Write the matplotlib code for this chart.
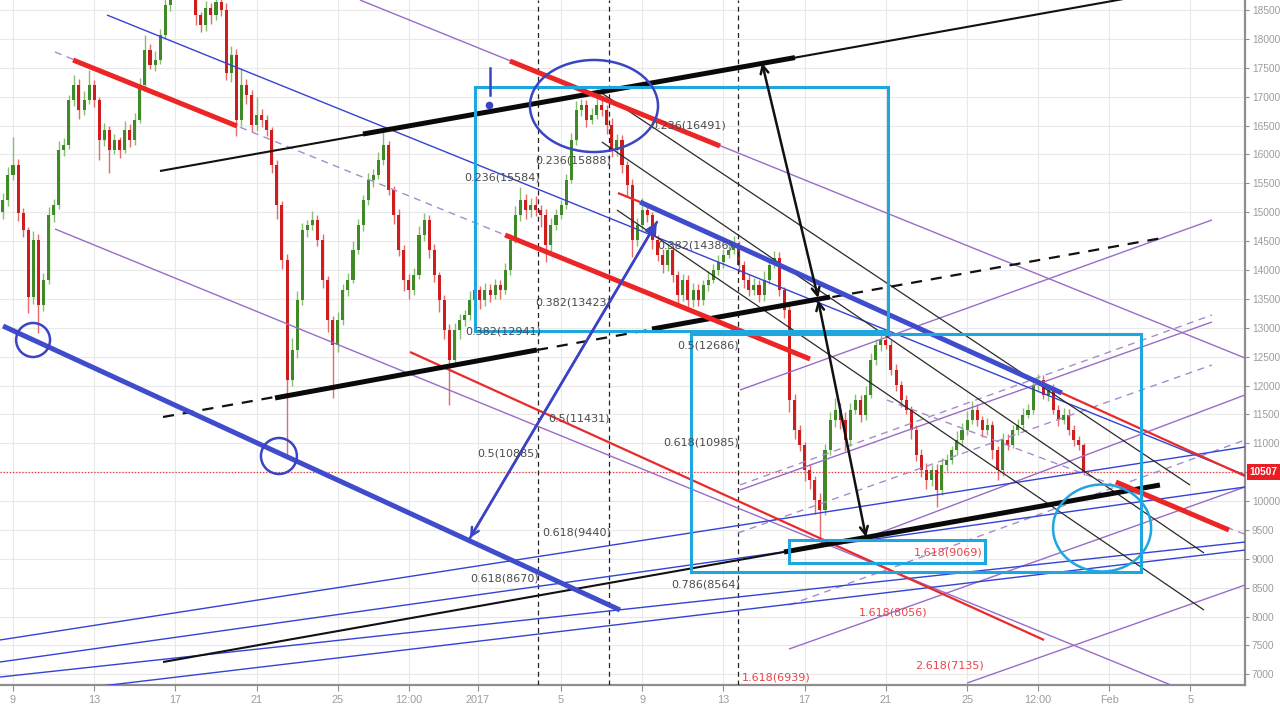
import numpy as np
import matplotlib
matplotlib.use('Agg')
import matplotlib.pyplot as plt
from matplotlib.patches import Rectangle, Ellipse
import matplotlib.transforms as mtransforms

# ---------------- axis data ----------------
x_tick_days = [0, 4, 8, 12, 16, 19.5, 22.9, 27, 31, 35, 39, 43, 47, 50.5, 54, 58]
x_tick_labels = ['9', '13', '17', '21', '25', '12:00', '2017', '5', '9', '13',
                 '17', '21', '25', '12:00', 'Feb', '5']
y_ticks = list(range(7000, 19000, 500))
x_range = (-0.64, 60.69)
y_range = (6816, 18673)
last_price = 10507

# ---------------- candles (6h bars, open = previous close) ----------------
first_bar_day = -0.5
bar_step_days = 0.25
first_open = 15000
closes = [
    15210, 15640, 15820, 14990, 14690, 13530, 14520, 13390, 13830, 14950,
    15130, 16080, 16160, 16940, 17200, 16770, 16940, 17200, 16940, 16250,
    16420, 16080, 16250, 16080, 16420, 16250, 16600, 17200, 17810, 17550,
    17640, 18070, 18590, 19190, 19450, 19710, 19450, 19110, 18410, 18240,
    18540, 18410, 18640, 18500, 17410, 17720, 16600, 17200, 17030, 16510,
    16680, 16600, 16420, 15820, 15130, 14170, 12100, 12620, 13480, 14690,
    14780, 14870, 14520, 13830, 13130, 12700, 13130, 13650, 13830, 14350,
    14780, 15210, 15560, 15640, 15900, 16160, 15390, 14950, 14350, 13830,
    13650, 13910, 14610, 14870, 14350, 13910, 13480, 12960, 12440, 12960,
    13130, 13220, 13480, 13650, 13480, 13650, 13570, 13740, 13650, 14000,
    14520, 14950, 15210, 15040, 15130, 15040, 14950, 14430, 14780, 14950,
    15130, 15560, 16250, 16770, 16860, 16600, 16680, 16860, 16770, 16510,
    16080, 16250, 15820, 15470, 14520, 14780, 15040, 14950, 14520, 14260,
    14090, 14350, 13910, 13570, 13830, 13480, 13650, 13480, 13740, 13830,
    14000, 14140, 14260, 14350, 14430, 14090, 13830, 13650, 13740, 13570,
    13830, 14090, 14210, 13650, 13310, 11750, 11230, 10970, 10540, 10360,
    10020, 9850, 10880, 11400, 11580, 11400, 11060, 11580, 11750, 11490,
    11840, 12440, 12700, 12790, 12700, 12270, 12010, 11750, 11580, 11230,
    10800, 10540, 10360, 10540, 10190, 10620, 10710, 10880, 11060, 11230,
    11400, 11580, 11400, 11230, 11320, 10880, 10540, 11060, 10970, 11230,
    11320, 11490, 11580, 12010, 12100, 11840, 11920, 11580, 11400, 11490,
    11230, 11060, 10970, 10507]
upper_wick = [
    120, 150, 480, 100, 80, 60, 150, 100, 120, 140,
    100, 150, 120, 80, 170, 100, 150, 260, 80, 60,
    120, 80, 100, 60, 150, 100, 120, 130, 260, 100,
    150, 100, 120, 150, 150, 150, 100, 100, 80, 60,
    120, 80, 100, 80, 120, 150, 100, 300, 100, 80,
    320, 100, 80, 60, 80, 60, 100, 200, 150, 120,
    80, 150, 80, 100, 60, 80, 150, 100, 120, 150,
    100, 80, 120, 100, 150, 310, 80, 60, 100, 80,
    100, 120, 150, 120, 80, 100, 60, 80, 100, 120,
    100, 80, 150, 100, 80, 120, 100, 100, 80, 120,
    100, 150, 230, 100, 120, 150, 80, 100, 120, 100,
    80, 100, 120, 150, 100, 80, 120, 310, 100, 80,
    120, 100, 80, 60, 100, 120, 200, 80, 60, 80,
    100, 120, 60, 80, 100, 80, 120, 100, 80, 150,
    100, 120, 100, 120, 150, 80, 60, 100, 120, 80,
    150, 100, 120, 100, 60, 80, 100, 80, 60, 100,
    80, 120, 100, 150, 200, 120, 150, 120, 100, 80,
    150, 120, 100, 160, 120, 80, 100, 60, 80, 60,
    80, 100, 120, 80, 100, 120, 100, 80, 150, 120,
    160, 150, 100, 80, 120, 60, 80, 120, 100, 80,
    100, 120, 100, 80, 100, 80, 60, 100, 80, 120,
    100, 80, 60, 40]
lower_wick = [
    120, 100, 80, 150, 120, 280, 120, 480, 100, 80,
    120, 80, 100, 60, 100, 150, 80, 60, 120, 350,
    100, 400, 80, 150, 60, 120, 80, 60, 100, 80,
    100, 80, 60, 100, 80, 60, 120, 150, 170, 120,
    100, 150, 80, 100, 120, 150, 280, 100, 150, 120,
    100, 120, 100, 150, 250, 150, 1315, 100, 150, 80,
    120, 80, 100, 150, 200, 920, 120, 80, 100, 60,
    80, 100, 80, 120, 60, 80, 100, 150, 100, 200,
    150, 80, 60, 100, 150, 120, 200, 150, 780, 100,
    150, 100, 80, 100, 150, 100, 120, 80, 150, 60,
    80, 60, 100, 150, 120, 100, 200, 300, 100, 80,
    60, 80, 60, 80, 100, 120, 80, 60, 100, 150,
    120, 100, 150, 200, 300, 100, 80, 120, 150, 100,
    150, 100, 120, 200, 100, 150, 120, 100, 80, 100,
    60, 80, 100, 60, 80, 120, 150, 100, 80, 120,
    100, 80, 60, 100, 150, 200, 150, 100, 200, 150,
    250, 515, 100, 80, 120, 150, 200, 100, 80, 120,
    80, 60, 80, 100, 60, 80, 100, 120, 80, 150,
    100, 120, 150, 100, 290, 80, 100, 60, 80, 100,
    80, 60, 100, 120, 80, 150, 180, 100, 80, 60,
    80, 100, 60, 80, 100, 80, 100, 80, 100, 60,
    80, 100, 80, 60]

# ---------------- drawings (day, price) ----------------
black_thin = [(7.24, 15713, 55.0, 18709), (7.39, 7214, 37.98, 9118)]
black_thick = [(17.24, 16353, 38.52, 17676), (12.91, 11784, 25.81, 12615),
               (31.48, 12978, 40.25, 13532), (37.98, 9118, 56.50, 10278)]
black_dashed = [(7.39, 11455, 56.60, 14553)]
black_fan = [(28.92, 17080, 57.98, 10278), (29.01, 16215, 58.67, 9101),
             (29.75, 15038, 58.67, 8114)]
blue_thick = [(-0.49, 13030, 29.90, 8114), (30.89, 15176, 51.67, 11870)]
blue_thin = [(4.63, 18413, 60.69, 10451), (-0.64, 7595, 60.69, 10936),
             (-0.64, 7214, 60.69, 10243), (-0.64, 6954, 60.69, 9291),
             (3.94, 6781, 60.69, 9152)]
purple_solid = [(2.07, 14709, 57.04, 6816), (17.09, 18673, 60.69, 12476),
                (35.81, 11922, 59.06, 14865), (35.81, 10191, 59.06, 13099),
                (42.02, 9360, 60.69, 11836), (38.23, 7439, 60.69, 10243),
                (47.00, 6850, 60.69, 8547)]
purple_dashed = [(2.07, 17773, 24.24, 14605), (43.05, 11749, 60.79, 9412),
                 (35.81, 10278, 59.06, 13220), (35.71, 9447, 59.06, 12355),
                 (38.23, 8201, 60.69, 11057)]
red_thick = [(2.96, 17634, 11.03, 16492), (24.24, 14605, 39.26, 12459),
             (24.48, 17617, 34.83, 16146), (54.33, 10330, 59.90, 9499)]
red_thin = [(19.56, 12580, 50.79, 7595), (51.67, 11870, 60.69, 10433),
            (29.80, 15332, 30.89, 15176)]
vertical_dashed_days = [25.86, 29.36, 35.71]
cyan_boxes = [(22.76, 12943, 43.10, 17167), (33.40, 8772, 55.57, 12891),
              (38.23, 8927, 47.88, 9326)]
blue_ellipses = [(0.99, 12788, 1.67, 589), (13.10, 10780, 1.77, 623),
                 (28.62, 16838, 6.31, 1593)]
cyan_ellipses = [(53.65, 9533, 4.83, 1506)]
black_arrows = [(36.90, 17582, 39.66, 13515), (39.66, 13480, 42.02, 9377)]
blue_arrow = (22.51, 9360, 31.72, 14830)
blue_mark = (23.50, 17496, 23.50, 17029, 23.45, 16855)

fib_gray = [('0.236(16491)', 31.38, 16509), ('0.236(15888)', 25.71, 15903),
            ('0.236(15584)', 22.22, 15592), ('0.382(14386)', 31.72, 14415),
            ('0.382(13423)', 25.71, 13445), ('0.382(12941)', 22.27, 12943),
            ('0.5(12686)', 32.71, 12701), ('0.5(11431)', 26.35, 11437),
            ('0.5(10885)', 22.86, 10830), ('0.618(10985)', 32.02, 11022),
            ('0.618(9440)', 26.06, 9464), ('0.618(8670)', 22.51, 8668),
            ('0.786(8564)', 32.41, 8564)]
fib_red = [('1.618(9069)', 44.38, 9101), ('1.618(8056)', 41.67, 8079),
           ('2.618(7135)', 44.43, 7145), ('1.618(6939)', 35.91, 6954)]

# ---------------- figure ----------------
W, H = 1280, 704
fig = plt.figure(figsize=(W / 100, H / 100), dpi=100, facecolor='white')
ax = fig.add_axes([0, 1 - 685 / H, 1245 / W, 685 / H])
ax.set_facecolor('white')
ax.set_xlim(*x_range)
ax.set_ylim(*y_range)

# grid / axes
ax.set_xticks(x_tick_days)
ax.set_xticklabels(x_tick_labels, fontfamily='Liberation Sans')
ax.set_yticks(y_ticks)
# the 10500 label is hidden behind the last-price tag
ax.set_yticklabels(['' if v == 10500 else str(v) for v in y_ticks],
                   fontfamily='Liberation Sans')
ax.grid(True, color='#e9e9e9', lw=0.8)
ax.set_axisbelow(True)
for s in ['left', 'top']:
    ax.spines[s].set_visible(False)
for s in ['right', 'bottom']:
    ax.spines[s].set_color('#8e8e8e')
    ax.spines[s].set_linewidth(1.6)
ax.yaxis.tick_right()
ax.tick_params(axis='y', direction='out', length=3, color='#8e8e8e',
               labelcolor='#9c9c9c', labelsize=7.3, pad=2)
ax.tick_params(axis='x', direction='out', length=4, color='#8e8e8e',
               labelcolor='#9c9c9c', labelsize=7.8, pad=3)

# candles
n = min(len(closes), len(upper_wick), len(lower_wick))
xs = first_bar_day + bar_step_days * np.arange(n)
c = np.array(closes[:n], dtype=float)
o = np.concatenate([[first_open], c[:-1]])
hi = np.maximum(o, c) + np.array(upper_wick[:n])
lo = np.minimum(o, c) - np.array(lower_wick[:n])
up = c >= o
green, red = '#3f8a26', '#cf1d1d'
wick_green, wick_red = '#86bf72', '#e66a6a'
ax.vlines(xs[up], lo[up], hi[up], color=wick_green, lw=1.0, zorder=2)
ax.vlines(xs[~up], lo[~up], hi[~up], color=wick_red, lw=1.0, zorder=2)
body_h = np.maximum(np.abs(c - o), 20)
ax.bar(xs[up], body_h[up], bottom=np.minimum(o, c)[up], width=0.15,
       color=green, lw=0, zorder=3)
ax.bar(xs[~up], body_h[~up], bottom=np.minimum(o, c)[~up], width=0.15,
       color=red, lw=0, zorder=3)

# last price line
ax.axhline(last_price, color='#e53935', lw=0.9, ls=(0, (1, 1.5)), zorder=4)


def seg(lst, **kw):
    for x0, y0, x1, y1 in lst:
        ax.plot([x0, x1], [y0, y1], solid_capstyle='butt', **kw)


for xd in vertical_dashed_days:
    ax.axvline(xd, color='#222222', lw=0.9, ls=(0, (4, 3)), zorder=4)

seg(purple_solid, color='#9a6cc8', lw=1.0, zorder=5)
seg(purple_dashed, color='#a68ccc', lw=1.0, ls=(0, (5, 4)), zorder=5)
seg(blue_thin, color='#3343d4', lw=1.0, zorder=5)
seg(black_fan, color='#2a2a2a', lw=0.9, zorder=5)
seg(black_thin, color='#111111', lw=1.5, zorder=6)
seg(black_dashed, color='#111111', lw=1.6, ls=(0, (5, 4)), zorder=6)
seg(red_thin, color='#ea2a2a', lw=1.6, zorder=6)
seg(black_thick, color='#0a0a0a', lw=3.6, zorder=7)
seg(red_thick, color='#ec2626', lw=3.6, zorder=7)
seg(blue_thick, color='#3f4dcc', lw=3.6, zorder=7)

for x0, y0, x1, y1 in cyan_boxes:
    ax.add_patch(Rectangle((x0, y0), x1 - x0, y1 - y0, fill=False,
                           ec='#1ea6df', lw=2.2, zorder=8))
for cx, cy, w, h in blue_ellipses:
    ax.add_patch(Ellipse((cx, cy), w, h, fill=False, ec='#3a44c4', lw=1.8,
                         zorder=8))
for cx, cy, w, h in cyan_ellipses:
    ax.add_patch(Ellipse((cx, cy), w, h, fill=False, ec='#1ea6df', lw=1.8,
                         zorder=8))

for x0, y0, x1, y1 in black_arrows:
    ax.annotate('', xy=(x1, y1), xytext=(x0, y0),
                arrowprops=dict(arrowstyle='<->', color='#111111', lw=1.8,
                                shrinkA=0, shrinkB=0, mutation_scale=14),
                zorder=9)
bx0, by0, bx1, by1 = blue_arrow
ax.annotate('', xy=(bx1, by1), xytext=(bx0, by0),
            arrowprops=dict(arrowstyle='-|>', color='#3a44c4', lw=1.8,
                            shrinkA=0, shrinkB=0, mutation_scale=18), zorder=9)
ax.annotate('', xy=(bx0, by0), xytext=(bx1, by1),
            arrowprops=dict(arrowstyle='->', color='#3a44c4', lw=1.8,
                            shrinkA=0, shrinkB=0, mutation_scale=14), zorder=9)
mx0, my0, mx1, my1, dx, dy = blue_mark
ax.plot([mx0, mx1], [my0, my1], color='#3a44c4', lw=1.8, zorder=9)
ax.plot([dx], [dy], marker='o', ms=4.5, color='#3a44c4', zorder=9)

for t, xd, yp in fib_gray:
    ax.text(xd, yp, t, color='#4a4a4a', fontsize=8, ha='left', va='center',
            zorder=10)
for t, xd, yp in fib_red:
    ax.text(xd, yp, t, color='#e8434a', fontsize=8, ha='left', va='center',
            zorder=10)

trans = mtransforms.blended_transform_factory(ax.transAxes, ax.transData)
ax.text(1.0035, last_price, str(last_price), transform=trans, color='white',
        fontsize=7.2, fontweight='bold', fontfamily='Liberation Sans',
        ha='left', va='center', zorder=11, clip_on=False,
        bbox=dict(boxstyle='square,pad=0.28', fc='#ec1c24', ec='none'))

fig.savefig('out.png', dpi=100, facecolor='white')
